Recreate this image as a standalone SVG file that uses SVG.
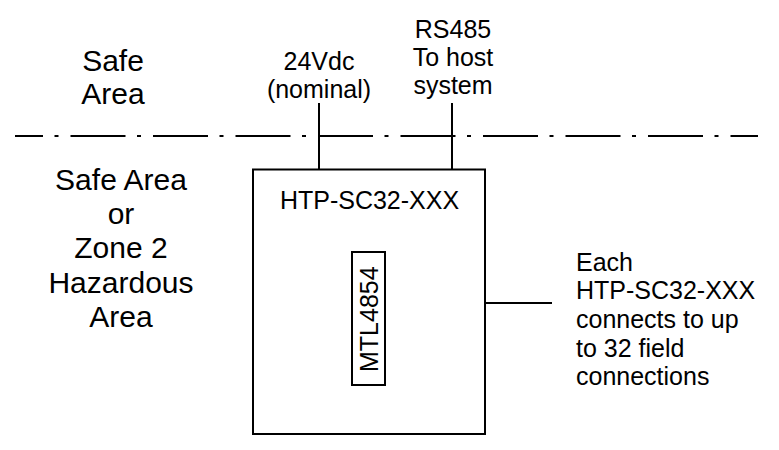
<svg xmlns="http://www.w3.org/2000/svg" width="779" height="450" viewBox="0 0 779 450">
<style>
text{font-family:"Liberation Sans",Arial,sans-serif;fill:#000}
.t25{font-size:25px}
.t30{font-size:30px}
.mid{text-anchor:middle}
.ln{stroke:#000;stroke-width:2;fill:none}
</style>
<rect width="779" height="450" fill="#fff"/>
<g id="zone-boundary">
<line x1="15" y1="136" x2="758" y2="136" stroke="#000" stroke-width="2" stroke-dasharray="55 11.5 4 12" stroke-dashoffset="27"/>
</g>
<g id="safe-area-label">
<text class="t30 mid" x="113" y="70.5">Safe</text>
<text class="t30 mid" x="113" y="104">Area</text>
</g>
<g id="zone2-label">
<text class="t30 mid" x="121" y="189.5">Safe Area</text>
<text class="t30 mid" x="121" y="223.5">or</text>
<text class="t30 mid" x="121" y="258">Zone 2</text>
<text class="t30 mid" x="121" y="292.5">Hazardous</text>
<text class="t30 mid" x="121" y="326.7">Area</text>
</g>
<g id="power-label">
<text class="t25 mid" x="319" y="70">24Vdc</text>
<text class="t25 mid" x="319" y="97.5">(nominal)</text>
</g>
<g id="rs485-label">
<text class="t25 mid" x="453" y="38.3">RS485</text>
<text class="t25 mid" x="453" y="66.3">To host</text>
<text class="t25 mid" x="453" y="93.5">system</text>
</g>
<g id="htp-box">
<rect class="ln" x="253" y="169.5" width="232" height="264.5"/>
<text class="t25 mid" x="369.5" y="209.3">HTP-SC32-XXX</text>
</g>
<g id="mtl4854">
<rect class="ln" x="352" y="252" width="33" height="133"/>
<text class="t25 mid" transform="translate(378.3 319.2) rotate(-90)">MTL4854</text>
</g>
<g id="field-label">
<text class="t25" x="576" y="270.5">Each</text>
<text class="t25" x="576" y="299.2">HTP-SC32-XXX</text>
<text class="t25" x="576" y="327.9">connects to up</text>
<text class="t25" x="576" y="356.6">to 32 field</text>
<text class="t25" x="576" y="385.3">connections</text>
</g>
<g id="connectors">
<line class="ln" x1="319" y1="103" x2="319" y2="169.5"/>
<line class="ln" x1="452" y1="103" x2="452" y2="169.5"/>
<line class="ln" x1="485" y1="303" x2="552" y2="303"/>
</g>
</svg>
